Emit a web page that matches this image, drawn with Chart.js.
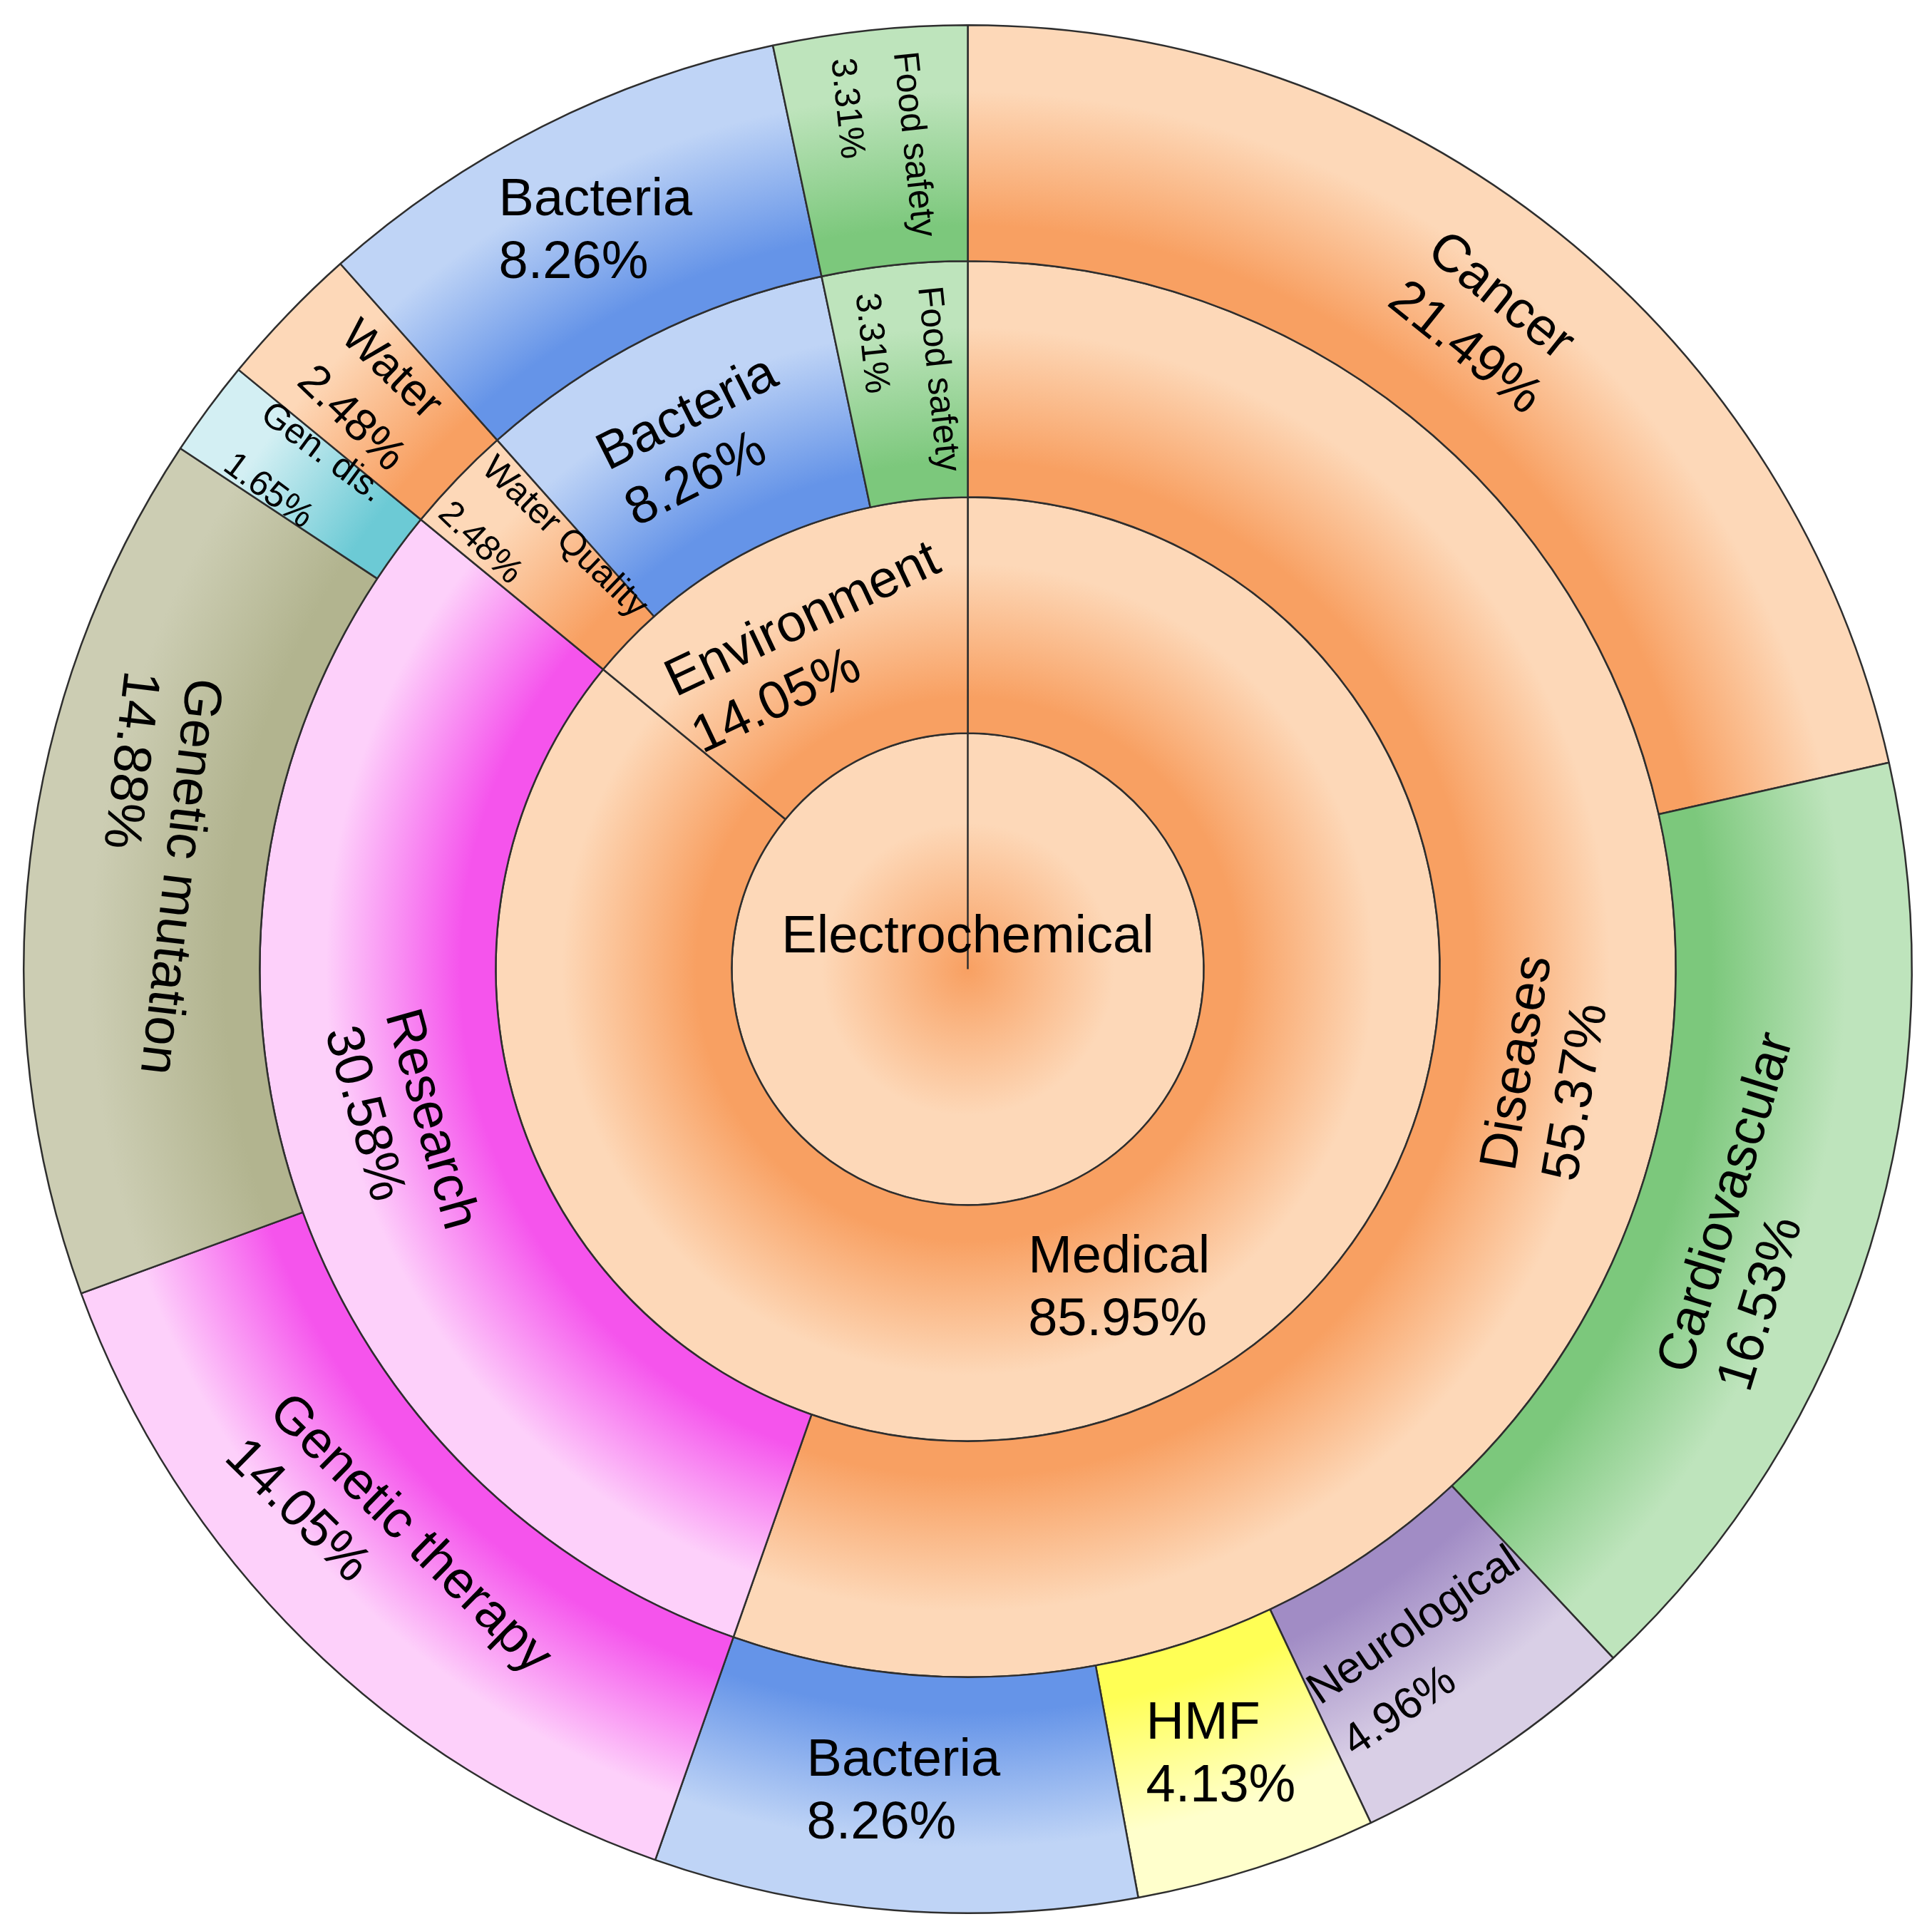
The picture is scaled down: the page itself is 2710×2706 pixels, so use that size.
<!DOCTYPE html>
<html>
<head>
<meta charset="utf-8">
<script src="https://cdn.jsdelivr.net/npm/chart.js@4/dist/chart.umd.min.js"></script>
<style>
  html, body { margin: 0; padding: 0; background: #ffffff; }
  canvas { display: block; }
</style>
</head>
<body>
<canvas id="c" width="2710" height="2706" style="width:2710px;height:2706px"></canvas>
<script>
// ---------------- DATA ----------------
const outerLabels  = ['Cancer', 'Cardiovascular', 'Neurological', 'HMF', 'Bacteria', 'Genetic therapy', 'Genetic mutation', 'Gen. dis.', 'Water', 'Bacteria', 'Food safety'];
const outerValues  = [21.49, 16.53, 4.96, 4.13, 8.26, 14.05, 14.88, 1.65, 2.48, 8.26, 3.31];

const middleLabels = ['Diseases', 'Research', 'Water Quality', 'Bacteria', 'Food safety'];
const middleValues = [55.37, 30.58, 2.48, 8.26, 3.31];

const innerLabels  = ['Medical', 'Environment'];
const innerValues  = [85.95, 14.05];

const centerLabels = ['Electrochemical'];
const centerValues = [100];

// ---------------- STYLE ----------------
const outerColors  = ['orange', 'green', 'purple', 'yellow', 'blue', 'magenta', 'olive', 'cyan', 'orange', 'blue', 'green'];
const middleColors = ['orange', 'magenta', 'orange', 'blue', 'green'];
const innerColors  = ['orange', 'orange'];
const centerColors = ['orange'];

// label orientation: h = horizontal, t = tangential, tf = tangential flipped, r = radial
const outerModes  = ['t', 'tf', 'tf', 'h', 'h', 'tf', 'tf', 'r', 'r', 'h', 'r'];
const middleModes = ['tf', 'tf', 'r', 't', 'r'];
const innerModes  = ['h', 't'];
const centerModes = ['h'];

const outerFonts  = [74, 74, 62, 74, 74, 74, 74, 50, 64, 74, 50];
const middleFonts = [74, 74, 50, 74, 50];
const innerFonts  = [74, 74];
const centerFonts = [74];

const PAL = {
  orange:  ['#F8A062', '#FDD8B8'],
  green:   ['#7CC87C', '#BEE4BC'],
  blue:    ['#6594E8', '#BFD4F6'],
  magenta: ['#F554EC', '#FDD0FA'],
  olive:   ['#B2B48F', '#CCCDB3'],
  cyan:    ['#6CCAD5', '#D3EFF3'],
  purple:  ['#A18CC5', '#D9CFE6'],
  yellow:  ['#FFFF55', '#FFFFCC']
};

const FONT_FAMILY = '"Liberation Sans", Arial, Helvetica, sans-serif';
const LINE_H = 88;

function ringFill(colorKeys, isCenter) {
  return (ctx) => {
    const pal = PAL[colorKeys[ctx.dataIndex]] || PAL.orange;
    const chart = ctx.chart;
    const area = chart.chartArea;
    const meta = chart.getDatasetMeta(ctx.datasetIndex);
    const c = meta && meta.controller;
    if (!area || !c || !(c.outerRadius > 0)) return pal[1];
    const cx = (area.left + area.right) / 2;
    const cy = (area.top + area.bottom) / 2;
    const ri = Math.max(c.innerRadius || 0, 0);
    const ro = c.outerRadius;
    const g = chart.ctx.createRadialGradient(cx, cy, ri, cx, cy, ro);
    if (isCenter) {
      g.addColorStop(0, pal[0]);
      g.addColorStop(0.62, pal[1]);
      g.addColorStop(1, pal[1]);
    } else {
      g.addColorStop(0, pal[0]);
      g.addColorStop(0.15, pal[0]);
      g.addColorStop(0.72, pal[1]);
      g.addColorStop(1, pal[1]);
    }
    return g;
  };
}

function makeDataset(labels, values, colors, modes, fonts, showPct, isCenter) {
  return {
    data: values,
    names: labels,
    labelModes: modes,
    labelFonts: fonts,
    showPct: showPct,
    backgroundColor: ringFill(colors, isCenter),
    borderColor: '#2e2e2e',
    borderWidth: 2.5,
    hoverOffset: 0
  };
}

const labelPlugin = {
  id: 'sunburstLabels',
  afterDatasetsDraw(chart) {
    const ctx = chart.ctx;
    chart.data.datasets.forEach((ds, di) => {
      const meta = chart.getDatasetMeta(di);
      meta.data.forEach((arc, i) => {
        const p = arc.getProps(['x', 'y', 'startAngle', 'endAngle', 'innerRadius', 'outerRadius'], true);
        const full = (p.endAngle - p.startAngle) >= Math.PI * 2 - 1e-6;
        const mid = (p.startAngle + p.endAngle) / 2;
        const rm = full ? 0 : (p.innerRadius + p.outerRadius) / 2;
        const px = p.x + Math.cos(mid) * rm;
        const py = p.y + Math.sin(mid) * rm;
        const theta = mid * 180 / Math.PI + 90; // clockwise from top
        const mode = ds.labelModes[i];
        let phi = 0;
        if (mode === 't') phi = theta;
        else if (mode === 'tf') phi = theta - 180;
        else if (mode === 'r') phi = theta + 90;
        while (phi > 180) phi -= 360;
        while (phi <= -180) phi += 360;
        const size = ds.labelFonts[i];
        const lines = [ds.names[i], ds.showPct ? ds.data[i].toFixed(2) + '%' : ''];
        ctx.save();
        ctx.translate(px, py);
        ctx.rotate(phi * Math.PI / 180);
        ctx.font = size + 'px ' + FONT_FAMILY;
        ctx.fillStyle = '#000000';
        ctx.textAlign = 'left';
        ctx.textBaseline = 'middle';
        const w = Math.max(...lines.map(s => ctx.measureText(s).width));
        lines.forEach((s, k) => {
          const y = (k - (lines.length - 1) / 2) * LINE_H;
          ctx.fillText(s, -w / 2, y);
        });
        ctx.restore();
      });
    });
  }
};

new Chart(document.getElementById('c'), {
  type: 'doughnut',
  data: {
    labels: outerLabels,
    datasets: [
      makeDataset(outerLabels, outerValues, outerColors, outerModes, outerFonts, true, false),
      makeDataset(middleLabels, middleValues, middleColors, middleModes, middleFonts, true, false),
      makeDataset(innerLabels, innerValues, innerColors, innerModes, innerFonts, true, false),
      makeDataset(centerLabels, centerValues, centerColors, centerModes, centerFonts, false, true)
    ]
  },
  options: {
    responsive: false,
    maintainAspectRatio: false,
    devicePixelRatio: 1,
    animation: false,
    cutout: 0,
    rotation: 0,
    circumference: 360,
    layout: { padding: { left: 32, right: 27, top: 34, bottom: 21 } },
    plugins: {
      legend: { display: false },
      tooltip: { enabled: false }
    },
    events: []
  },
  plugins: [labelPlugin]
});
</script>
</body>
</html>
